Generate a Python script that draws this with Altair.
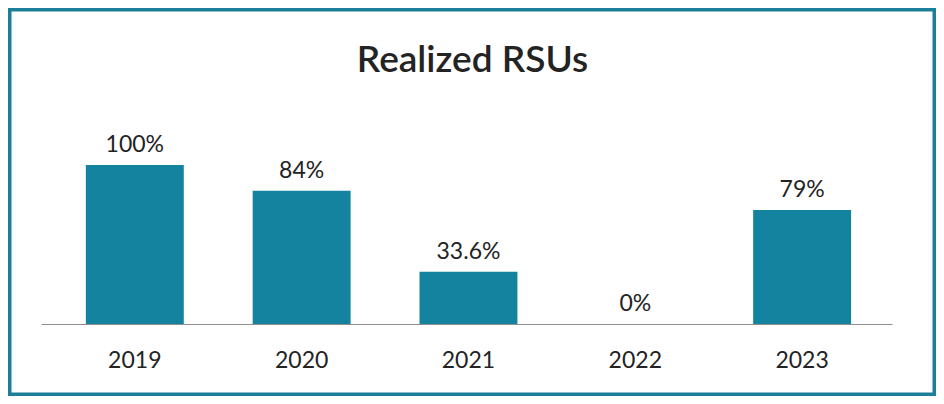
import altair as alt
import pandas as pd

years = ["2019", "2020", "2021", "2022", "2023"]
bar_heights = [100, 83.8, 32.9, 0, 71.7]   # bar heights as drawn (% of the 100% bar)
labels = ["100%", "84%", "33.6%", "0%", "79%"]
title_text = "Realized RSUs"

df = pd.DataFrame({"year": years, "value": bar_heights, "label": labels})

W, H = 851, 159
PL, PR, PT, PB = 33, 44, 157, 72
BAR = "#13839f"
TXT = "#232323"
FONT = "Lato"

x = alt.X("year:N", sort=years, title=None,
          scale=alt.Scale(paddingInner=0.413, paddingOuter=0.257, align=0.523),
          axis=alt.Axis(labelAngle=0, labelFont=FONT, labelFontSize=23, labelColor=TXT,
                        labelBaseline="alphabetic", labelPadding=43, ticks=False, tickSize=0,
                        domainColor="#8f8f8f", domainWidth=1.2, grid=False))
y = alt.Y("value:Q", scale=alt.Scale(domain=[0, 100], nice=False), axis=None)

base = alt.Chart(df)
bars = base.mark_bar(color=BAR).encode(x=x, y=y)
text = base.mark_text(font=FONT, fontSize=23, color=TXT, baseline="alphabetic", dy=-13).encode(
    x=alt.X("year:N", sort=years), y=y, text="label:N")

one = pd.DataFrame({"t": [title_text]})
frame = alt.Chart(one).mark_rect(
    fill=None, stroke="#1b7f99", strokeWidth=3.5).encode(
    x=alt.value(-PL + 1.75), x2=alt.value(W + PR - 1.75),
    y=alt.value(-PT + 1.75), y2=alt.value(H + PB - 1.75))

title = alt.Chart(one).mark_text(font=FONT, fontSize=37, fontWeight=600, color=TXT,
                                 baseline="alphabetic", align="center").encode(
    x=alt.value(431.5), y=alt.value(-93), text="t:N")

chart = alt.layer(frame, bars, text, title).properties(
    width=W, height=H,
    padding={"left": PL, "right": PR, "top": PT, "bottom": PB},
    autosize=alt.AutoSizeParams(type="none"),
    background="white",
).configure_view(stroke=None)

chart.save("out.html", embed_options={"renderer": "svg", "actions": False})
